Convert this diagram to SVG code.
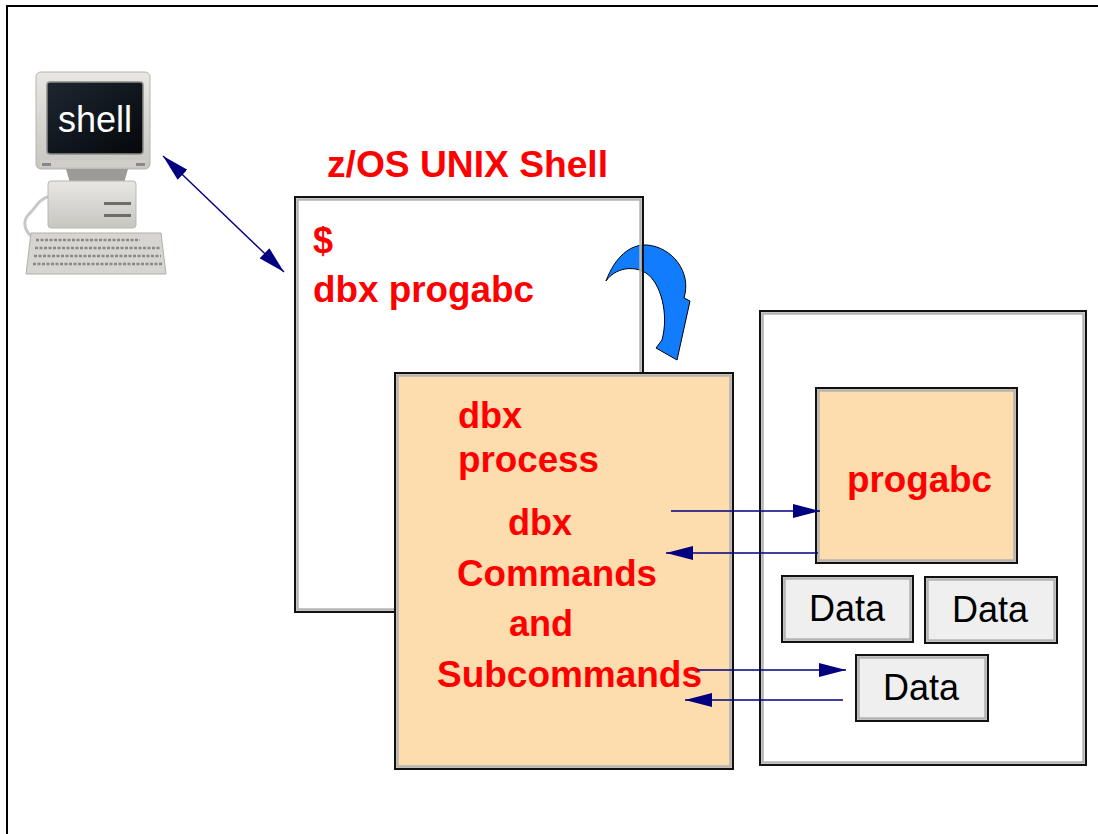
<svg xmlns="http://www.w3.org/2000/svg" width="1098" height="834" viewBox="0 0 1098 834">
  <style>
    .frame { fill: none; stroke: #000; stroke-width: 2; }
    .box-out { stroke: #111; stroke-width: 2; }
    .box-in { fill: none; stroke: #b4b4b4; stroke-width: 2.5; }
    .peach { fill: #fddcae; }
    .grey { fill: #efefef; }
    .red { font-family: "Liberation Sans", Arial, sans-serif; font-weight: bold; font-size: 36px; fill: #ff0000; }
    .data { font-family: "Liberation Sans", Arial, sans-serif; font-size: 36px; fill: #000; }
    .conn { stroke: #000080; stroke-width: 1.4; fill: none; }
  </style>
  <defs>
    <marker id="ah" viewBox="0 0 27 14" refX="27" refY="7" markerWidth="27" markerHeight="14" markerUnits="userSpaceOnUse" orient="auto-start-reverse">
      <path d="M0,0 L27,7 L0,14 Z" fill="#000080"/>
    </marker>
    <linearGradient id="beige" x1="0" y1="0" x2="0" y2="1">
      <stop offset="0" stop-color="#e8e7e3"/>
      <stop offset="1" stop-color="#c6c5c0"/>
    </linearGradient>
    <linearGradient id="screen" x1="0" y1="0" x2="1" y2="1">
      <stop offset="0" stop-color="#1d2630"/>
      <stop offset="1" stop-color="#05080c"/>
    </linearGradient>
  </defs>

  <!-- page frame: top and left edges -->
  <path class="frame" d="M7,834 L7,6 L1098,6"/>

  <!-- workstation running the shell -->
  <g id="terminal">
    <path d="M50,196 C38,199 36,208 29,214 C22,221 24,232 34,238" fill="none" stroke="#c9c8c4" stroke-width="3"/>
    <rect x="36" y="72" width="114" height="97" rx="5" fill="url(#beige)" stroke="#b5b4af" stroke-width="1"/>
    <rect x="47" y="82" width="96" height="72" rx="3" fill="url(#screen)" stroke="#8c8b87" stroke-width="1.5"/>
    <rect x="40" y="160" width="106" height="7" fill="#cfcec9"/>
    <rect x="42" y="163" width="9" height="3" fill="#888"/>
    <rect x="136" y="163" width="9" height="3" fill="#888"/>
    <path d="M66,169 L128,169 L124,183 L70,183 Z" fill="#9c9b97"/>
    <rect x="48" y="181" width="88" height="47" rx="3" fill="url(#beige)" stroke="#b8b7b2" stroke-width="1"/>
    <rect x="104" y="202" width="27" height="3" fill="#6d6c68"/>
    <rect x="104" y="214" width="27" height="3" fill="#6d6c68"/>
    <path d="M31,233 L161,233 L166,274 L26,274 Z" fill="#d6d5d1" stroke="#b0afaa" stroke-width="1"/>
    <g stroke="#8a8985" stroke-width="2.5" stroke-dasharray="3 1.5">
      <line x1="36" y1="240" x2="140" y2="240"/>
      <line x1="35" y1="248" x2="160" y2="248"/>
      <line x1="34" y1="256" x2="161" y2="256"/>
      <line x1="33" y1="264" x2="162" y2="264"/>
    </g>
    <text x="95" y="132" text-anchor="middle" font-family="Liberation Sans, Arial, sans-serif" font-size="36" fill="#fff">shell</text>
  </g>

  <!-- curved hand-off arrow from the shell to the dbx process -->
  <g id="handoff">
    <path d="M606,281 C615,257 630,244 647,245 C672,247 692,272 684,298 L690,301 L677,360 L656,348 L662,340 C669,314 661,283 646,273 C633,265 615,268 606,281 Z" fill="#127cff" stroke="#000" stroke-width="1"/>
  </g>

  <g id="shell">
    <text class="red" x="327" y="177" textLength="281" lengthAdjust="spacingAndGlyphs">z/OS UNIX Shell</text>
    <rect class="box-out" x="295" y="197" width="348" height="415" fill="none"/>
    <rect class="box-in" x="297.5" y="199.5" width="343" height="410"/>
    <text class="red" x="313" y="253">$</text>
    <text class="red" x="313" y="302" textLength="221" lengthAdjust="spacingAndGlyphs">dbx progabc</text>
  </g>

  <g id="dbx-process">
    <rect class="box-out peach" x="395" y="373" width="338" height="396"/>
    <rect class="box-in" x="397.5" y="375.5" width="333" height="391"/>
    <text class="red" x="458" y="428">dbx</text>
    <text class="red" x="458" y="472" textLength="141" lengthAdjust="spacingAndGlyphs">process</text>
    <text class="red" x="508" y="535">dbx</text>
    <text class="red" x="457" y="586" textLength="200" lengthAdjust="spacingAndGlyphs">Commands</text>
    <text class="red" x="509" y="636">and</text>
    <text class="red" x="437" y="687" textLength="265" lengthAdjust="spacingAndGlyphs">Subcommands</text>
  </g>

  <g id="address-space">
    <rect class="box-out" x="760" y="311" width="326" height="454" fill="#fff"/>
    <rect class="box-in" x="762.5" y="313.5" width="321" height="449"/>
  </g>

  <g id="progabc">
    <rect class="box-out peach" x="816" y="388" width="201" height="175"/>
    <rect class="box-in" x="818.5" y="390.5" width="196" height="170"/>
    <text class="red" x="847" y="492" textLength="145" lengthAdjust="spacingAndGlyphs">progabc</text>
  </g>

  <g id="data-1">
    <rect class="box-out grey" x="782" y="576" width="131" height="66"/>
    <rect class="box-in" x="784.5" y="578.5" width="126" height="61"/>
    <text class="data" x="809" y="621">Data</text>
  </g>
  <g id="data-2">
    <rect class="box-out grey" x="925" y="577" width="132" height="66"/>
    <rect class="box-in" x="927.5" y="579.5" width="127" height="61"/>
    <text class="data" x="952" y="622">Data</text>
  </g>
  <g id="data-3">
    <rect class="box-out grey" x="856" y="655" width="132" height="66"/>
    <rect class="box-in" x="858.5" y="657.5" width="127" height="61"/>
    <text class="data" x="883" y="700">Data</text>
  </g>

  <g id="connectors">
    <line class="conn" x1="163" y1="156" x2="284" y2="272" marker-start="url(#ah)" marker-end="url(#ah)"/>
    <line class="conn" x1="671" y1="511" x2="820" y2="511" marker-end="url(#ah)"/>
    <line class="conn" x1="818" y1="553" x2="666" y2="553" marker-end="url(#ah)"/>
    <line class="conn" x1="697" y1="670" x2="846" y2="670" marker-end="url(#ah)"/>
    <line class="conn" x1="843" y1="700" x2="685" y2="700" marker-end="url(#ah)"/>
  </g>
</svg>
